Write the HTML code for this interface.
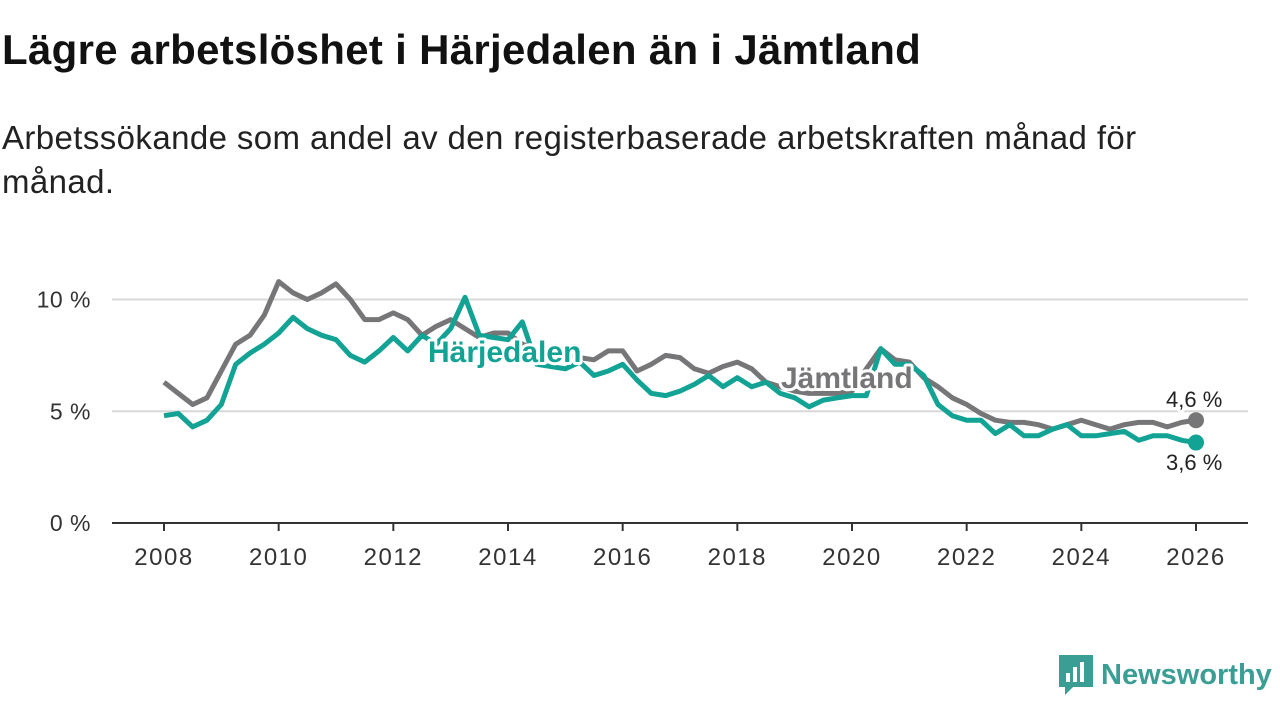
<!DOCTYPE html>
<html><head><meta charset="utf-8"><style>
body{margin:0;width:1280px;height:720px;background:#fff;font-family:"Liberation Sans",sans-serif;overflow:hidden;position:relative}
h1{position:absolute;left:2px;top:26px;margin:0;font-size:42px;font-weight:bold;color:#111;letter-spacing:0.3px}
p{position:absolute;left:2px;top:116px;margin:0;font-size:33px;line-height:44px;color:#222;width:1200px;letter-spacing:0.4px}
svg{position:absolute;left:0;top:0}
</style></head><body>
<h1>Lägre arbetslöshet i Härjedalen än i Jämtland</h1>
<p>Arbetssökande som andel av den registerbaserade arbetskraften månad för månad.</p>
<svg width="1280" height="720" id="chart"></svg>
<script>
const years=[2008,2010,2012,2014,2016,2018,2020,2022,2024,2026];
const yTicks=[0,5,10];
const yTickLabels=["0 %","5 %","10 %"];
const startYear=2008, stepYears=0.25;
const jamtland=[6.3,5.8,5.3,5.6,6.8,8.0,8.4,9.3,10.8,10.3,10.0,10.3,10.7,10.0,9.1,9.1,9.4,9.1,8.4,8.8,9.1,8.7,8.3,8.5,8.5,8.0,7.8,7.6,7.5,7.4,7.3,7.7,7.7,6.8,7.1,7.5,7.4,6.9,6.7,7.0,7.2,6.9,6.3,6.1,5.9,5.8,5.8,5.8,5.9,6.9,7.8,7.3,7.2,6.5,6.1,5.6,5.3,4.9,4.6,4.5,4.5,4.4,4.2,4.4,4.6,4.4,4.2,4.4,4.5,4.5,4.3,4.5,4.6];
const harjedalen=[4.8,4.9,4.3,4.6,5.3,7.1,7.6,8.0,8.5,9.2,8.7,8.4,8.2,7.5,7.2,7.7,8.3,7.7,8.4,8.0,8.7,10.1,8.4,8.3,8.2,9.0,7.1,7.0,6.9,7.2,6.6,6.8,7.1,6.4,5.8,5.7,5.9,6.2,6.6,6.1,6.5,6.1,6.3,5.8,5.6,5.2,5.5,5.6,5.7,5.7,7.8,7.1,7.1,6.6,5.3,4.8,4.6,4.6,4.0,4.4,3.9,3.9,4.2,4.4,3.9,3.9,4.0,4.1,3.7,3.9,3.9,3.7,3.6];
const NS="http://www.w3.org/2000/svg",svg=document.getElementById('chart');
const x=y=>164+(y-2008)*(1196-164)/18, yv=v=>523-v*22.35;
function mk(t,a,txt){const e=document.createElementNS(NS,t);for(const k in a)e.setAttribute(k,a[k]);if(txt!=null)e.textContent=txt;svg.appendChild(e);return e;}
yTicks.forEach((t,i)=>{
 if(t>0){const g=mk('line',{x1:112,x2:1248,y1:yv(t),y2:yv(t),stroke:'#d8d8d8','stroke-width':2});
 
 }
 const l=mk('text',{x:91,y:yv(t)+8,'text-anchor':'end','font-size':23,fill:'#333','letter-spacing':0.5},yTickLabels[i]);
 
 
});
const ax=mk('line',{x1:112,x2:1248,y1:523,y2:523,stroke:'#333','stroke-width':2});


years.forEach(yr=>{
 const tk=mk('line',{x1:x(yr),x2:x(yr),y1:523,y2:531,stroke:'#333','stroke-width':2});
 
 
 const l=mk('text',{x:x(yr),y:565,'text-anchor':'middle','font-size':24,fill:'#333','letter-spacing':1.5},String(yr));
 
 
});
function line(d,c,name){
 const pts=d.map((v,i)=>x(startYear+i*stepYears).toFixed(1)+','+yv(v).toFixed(1)).join(' ');
 const p=mk('polyline',{points:pts,fill:'none',stroke:c,'stroke-width':5,'stroke-linejoin':'round'});
 
 
 const last=d.length-1;
 const dot=mk('circle',{cx:x(startYear+last*stepYears),cy:yv(d[last]),r:8,fill:c});
 
 
}
line(jamtland,'#767578','jamtland-line');
line(harjedalen,'#12a395','harjedalen-line');
function lab(t,xx,yy,c,name,size,w){
 const e=mk('text',{x:xx,y:yy,'font-size':size,'font-weight':w,fill:c,stroke:'#fff','stroke-width':6,'paint-order':'stroke','stroke-linejoin':'round'},t);
 
 
}
lab('Härjedalen',428,362,'#12a395','harjedalen-label',30,'bold');
lab('Jämtland',781,388,'#767578','jamtland-label',30,'bold');
lab('4,6 %',1166,407,'#222','jamtland-end-value',22,'normal');
lab('3,6 %',1166,470,'#222','harjedalen-end-value',22,'normal');
</script>
<div style="position:absolute;left:1059px;top:655px;display:flex;align-items:center;gap:8px">
<svg width="34" height="40" viewBox="0 0 34 40" style="position:static"><path d="M0 0H34V32H14L6 40V32H0Z" fill="#3a9e94"/><rect x="7" y="18" width="4" height="9" fill="#fff"/><rect x="14" y="12" width="4" height="15" fill="#fff"/><rect x="21" y="7" width="4" height="20" fill="#fff"/></svg>
<span style="font-size:29px;font-weight:bold;color:#3a9e94">Newsworthy</span></div>
</body></html>
